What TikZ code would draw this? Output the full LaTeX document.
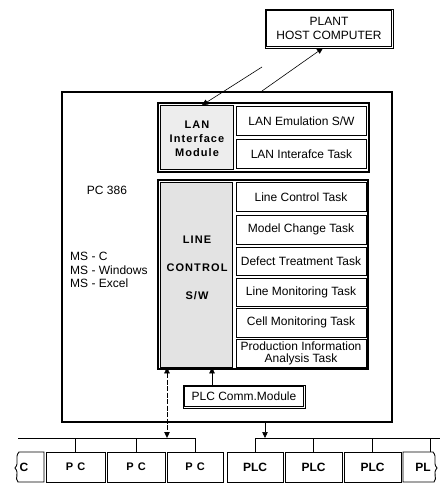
\documentclass[tikz,border=0pt]{standalone}
\usepackage{fontspec}
\setmainfont{Liberation Sans}
\newfontfamily\spb[LetterSpace=10.0]{Liberation Sans}
\usetikzlibrary{arrows.meta}
\begin{document}
\begin{tikzpicture}[x=1pt,y=-1pt,
  txt/.style={font=\fontsize{12}{13.5}\selectfont, inner sep=0pt, align=center},
  box/.style={draw, line width=0.8pt, inner sep=0pt, align=center, font=\fontsize{12}{12.5}\selectfont},
  dbox/.style={draw, line width=0.8pt, inner sep=0pt, align=center, font=\fontsize{12}{13.5}\selectfont},
  grp/.style={draw, line width=1.6pt, inner sep=0pt},
  shade/.style={draw, line width=0.6pt, inner sep=0pt, align=center},
  bold/.style={font=\spb\bfseries\fontsize{10.5}{13}\selectfont, inner sep=0pt, align=center},
  nodebox/.style={draw, line width=0.9pt, inner sep=0pt, minimum height=30pt},
  arr/.style={line width=0.6pt, -{Triangle[length=6pt,width=5.5pt]}},
  bus/.style={line width=0.7pt},
  inner/.style={line width=0.6pt}
]
\useasboundingbox (0,0) rectangle (442,484);

% host
\node[dbox, minimum width=128pt, minimum height=39pt] (host) at (329,28.5) {PLANT\\HOST COMPUTER};
\draw[inner] ([shift={(2pt,-2pt)}]host.north west) rectangle ([shift={(-2pt,2pt)}]host.south east);

% main PC box
\node[draw, line width=2pt, minimum width=330pt, minimum height=330pt] (main) at (227,257) {};

% LAN group
\node[grp, minimum width=211pt, minimum height=69pt] (langrp) at (263.5,137.5) {};
\node[shade, fill=gray!14, minimum width=73pt, minimum height=64pt] (lanmod) at (197,137.5) {};
\node[bold, font=\spb\bfseries\fontsize{11}{14}\selectfont] (lanlbl) at (197,139) {LAN\\Interface\\Module};
\node[box, minimum width=130pt, minimum height=29pt] (lanemu) at (301.5,121) {LAN Emulation S/W};
\node[box, minimum width=130pt, minimum height=29pt] (lantask) at (301.5,154) {LAN Interafce Task};

% line control group
\node[grp, minimum width=210pt, minimum height=189pt] (lcgrp) at (263,274.5) {};
\node[shade, fill=gray!22, minimum width=72pt, minimum height=185pt] (lcsw) at (196.5,274.5) {};
\node[bold, font=\spb\bfseries\fontsize{11}{28}\selectfont] (lclbl) at (197,268) {LINE\\CONTROL\\S/W};

\node[box, minimum width=130pt, minimum height=29pt] (t1) at (301,197) {Line Control Task};
\node[box, minimum width=130pt, minimum height=29pt] (t2) at (301,229.5) {Model Change Task};
\node[box, minimum width=130pt, minimum height=28pt] (t3) at (301,261) {Defect Treatment Task};
\node[box, minimum width=130pt, minimum height=28pt] (t4) at (301,292) {Line Monitoring Task};
\node[box, minimum width=130pt, minimum height=29pt] (t5) at (301,322.5) {Cell Monitoring Task};
\node[box, minimum width=130pt, minimum height=28pt, font=\fontsize{12}{12.5}\selectfont] (t6) at (301,353.5) {Production Information\\Analysis Task};

% side texts
\node[txt] (pc386) at (107,190) {PC 386};
\node[txt, align=left, anchor=west] (ms) at (70,270) {MS - C\\MS - Windows\\MS - Excel};

% PLC comm module
\node[dbox, minimum width=122pt, minimum height=23pt] (plccomm) at (244,396.5) {PLC Comm.Module};
\draw[inner] ([shift={(2pt,-2pt)}]plccomm.north west) rectangle ([shift={(-2pt,2pt)}]plccomm.south east);

% host connectors
\coordinate (a1) at (262,91);
\coordinate (hostin) at (323,48);
\coordinate (b1) at (262,67);
\draw[arr] (a1) -- (hostin);
\draw[arr] (b1) -- (lanmod.north -| 202,0);

% internal / bus connectors
\coordinate (busa) at (167,438);
\coordinate (busb) at (265,438);
\coordinate (pa) at (212,385);
\draw[line width=0.4pt, dash pattern=on 5pt off 1.5pt, {Triangle[length=6pt,width=5.5pt]}-{Triangle[length=6pt,width=5.5pt]}] (lcsw.south -| busa) -- (busa);
\draw[arr] (plccomm.north -| pa) -- (lcsw.south -| pa);
\draw[arr] (main.south -| busb) -- (busb);

% lower nodes
\node[nodebox, minimum width=59pt] (pc1) at (75.5,467) {};
\node[nodebox, minimum width=58pt] (pc2) at (136,467) {};
\node[nodebox, minimum width=56pt] (pc3) at (195,467) {};
\node[nodebox, minimum width=56pt] (plc1) at (255,467) {};
\node[nodebox, minimum width=57pt] (plc2) at (313.5,467) {};
\node[nodebox, minimum width=57pt] (plc3) at (372.5,467) {};
\node[bold, font=\spb\bfseries\fontsize{11}{13}\selectfont] at (pc1) {P C};
\node[bold, font=\spb\bfseries\fontsize{11}{13}\selectfont] at (pc2) {P C};
\node[bold, font=\spb\bfseries\fontsize{11}{13}\selectfont] at (pc3) {P C};
\node[bold, font=\bfseries\fontsize{12}{13}\selectfont] at (plc1) {PLC};
\node[bold, font=\bfseries\fontsize{12}{13}\selectfont] at (plc2) {PLC};
\node[bold, font=\bfseries\fontsize{12}{13}\selectfont] at (plc3) {PLC};

% partial boxes
\draw[line width=0.9pt] (44,452) -- (19,452) .. controls (14,458) and (20,462) .. (15,468) .. controls (20,474) and (14,478) .. (18,482) -- (44,482) -- cycle;
\node[bold, font=\bfseries\fontsize{12}{13}\selectfont] (pc0) at (24,467) {C};
\draw[line width=0.9pt] (403,452) -- (433,452) .. controls (438,458) and (432,462) .. (437,468) .. controls (432,474) and (438,478) .. (434,482) -- (403,482) -- cycle;
\node[bold, font=\bfseries\fontsize{12}{13}\selectfont] (plc4) at (423,467) {PL};
\coordinate (plc4top) at (430,452);

% buses
\coordinate (busLstart) at (18,438);
\coordinate (busRend) at (440,438);
\draw[bus] (busLstart) -- (pc3.north |- busLstart) -- (pc3.north);
\draw[bus] (pc1.north |- busLstart) -- (pc1.north);
\draw[bus] (pc2.north |- busLstart) -- (pc2.north);
\draw[bus] (plc1.north) -- (plc1.north |- busRend) -- (busRend);
\draw[bus] (plc2.north |- busRend) -- (plc2.north);
\draw[bus] (plc3.north |- busRend) -- (plc3.north);
\draw[bus] (plc4top |- busRend) -- (plc4top);
\end{tikzpicture}
\end{document}
